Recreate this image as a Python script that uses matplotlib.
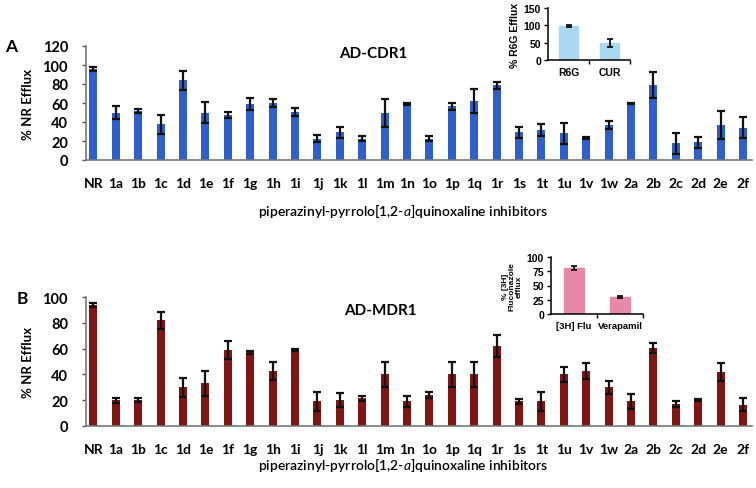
import numpy as np
import matplotlib
matplotlib.use('Agg')
import matplotlib.pyplot as plt

cats = ['NR', '1a', '1b', '1c', '1d', '1e', '1f', '1g', '1h', '1i', '1j', '1k', '1l',
        '1m', '1n', '1o', '1p', '1q', '1r', '1s', '1t', '1u', '1v', '1w',
        '2a', '2b', '2c', '2d', '2e', '2f']

# AD-CDR1, % NR efflux
cdr1_val = [96, 50, 51.5, 37.5, 84, 50, 47.5, 59, 60, 50.5, 22.5, 29, 22.5,
            49.5, 58.5, 22.5, 56.5, 62, 78.5, 29, 31.5, 28, 23, 37,
            59.5, 79, 17.5, 18.5, 37, 34]
cdr1_err = [2, 6.5, 2.5, 10, 10, 11, 3, 6, 4, 4, 4, 6, 3,
            15, 1, 3, 4, 13, 4, 6, 6, 11, 1, 4,
            1, 14, 11, 6, 15, 11]

# AD-MDR1, % NR efflux
mdr1_val = [94, 20, 20, 82, 30, 33, 59, 57, 43, 59, 19, 20, 21.5,
            40, 19, 24, 40, 40, 62, 19, 19, 40, 42.5, 30,
            19, 60.5, 17, 20, 41.5, 16.5]
mdr1_err = [1.5, 2, 1.5, 6.5, 7.5, 10, 7, 1, 7, 0.5, 7.5, 5.5, 2,
            10, 4.5, 2, 10, 10, 8.5, 2, 7.5, 6, 6, 5,
            5.5, 4, 2, 1, 7, 5]

insA_cats = ['R6G', 'CUR']
insA_val = [98, 49]
insA_err = [2, 12]

insB_cats = ['[3H] Flu', 'Verapamil']
insB_val = [80, 30]
insB_err = [3.5, 2]

plt.rcParams['font.family'] = ['Lato', 'DejaVu Sans']
plt.rcParams['mathtext.fontset'] = 'custom'
plt.rcParams['mathtext.it'] = 'Lato:italic'
plt.rcParams['mathtext.rm'] = 'Lato'

fig = plt.figure(figsize=(7.56, 4.89), dpi=100)
W, H = 756.0, 489.0


def px_axes(x0, y0, x1, y1):
    # axes from pixel box (top-left origin)
    return fig.add_axes([x0 / W, 1 - y1 / H, (x1 - x0) / W, (y1 - y0) / H])


def main_panel(ax, vals, errs, color, ymax, ystep):
    x = np.arange(len(cats))
    ax.bar(x, vals, width=0.36, color=color, zorder=2)
    ax.errorbar(x, vals, yerr=errs, fmt='none', ecolor='#111111',
                elinewidth=1.6, capsize=2.6, capthick=1.6, zorder=3)
    ax.set_xlim(-0.33, 29.4)
    ax.set_ylim(0, ymax)
    ax.set_yticks(np.arange(0, ymax + 1, ystep))
    ax.set_xticks(x)
    ax.set_xticklabels(cats, fontsize=10, fontweight='bold')
    for lab in ax.get_yticklabels():
        lab.set_fontsize(10.5)
        lab.set_fontweight('bold')
    ax.tick_params(axis='x', length=0, pad=12)
    ax.tick_params(axis='y', length=3, width=1, pad=10, color='#555555')
    for s in ['top', 'right']:
        ax.spines[s].set_visible(False)
    for s in ['left', 'bottom']:
        ax.spines[s].set_color('#777777')
        ax.spines[s].set_linewidth(1.2)
    ax.set_ylabel('% NR Efflux', fontsize=9.5, fontweight='bold', labelpad=6)


def inset_panel(ax, labels, vals, errs, color, ymax, ystep, ylabel, yfs, xfs):
    x = np.arange(len(labels))
    ax.bar(x, vals, width=0.45, color=color, edgecolor=color, zorder=2)
    ax.errorbar(x, vals, yerr=errs, fmt='none', ecolor='#111111',
                elinewidth=1.3, capsize=2.2, capthick=1.3, zorder=3)
    ax.set_xlim(-0.5, 1.5)
    ax.set_ylim(0, ymax)
    ax.set_yticks(np.arange(0, ymax + 1, ystep))
    ax.set_xticks(x)
    ax.set_xticks([0.5, 1.5], minor=True)
    ax.set_xticklabels(labels, fontsize=xfs, fontweight='bold',
                       family='Liberation Sans')
    for lab in ax.get_yticklabels():
        lab.set_fontsize(7.5)
        lab.set_fontweight('bold')
        lab.set_family('Liberation Sans')
    ax.tick_params(axis='x', which='major', length=0, pad=5)
    ax.tick_params(axis='x', which='minor', length=3, width=1, direction='out')
    ax.tick_params(axis='y', length=3, width=1, pad=2)
    for s in ['top', 'right']:
        ax.spines[s].set_visible(False)
    ax.spines['left'].set_linewidth(1.1)
    ax.spines['bottom'].set_linewidth(1.1)
    ax.set_ylabel(ylabel, fontsize=yfs, fontweight='bold',
                  family='Liberation Sans', labelpad=3, linespacing=1.0)


# Panel A
axA = px_axes(86, 47, 752, 161)
main_panel(axA, cdr1_val, cdr1_err, '#2F5FCF', 120, 20)
fig.text(11 / W, 1 - 47 / H, 'A', fontsize=12.5, fontweight='bold',
         ha='center', va='center')
fig.text(373 / W, 1 - 54 / H, 'AD-CDR1', fontsize=11, fontweight='bold',
         ha='center', va='center')
fig.text(403 / W, 1 - 211 / H, 'piperazinyl-pyrrolo[1,2-$\\mathit{a}$]quinoxaline inhibitors',
         fontsize=10, fontweight='semibold', ha='center', va='center')

# Panel B
axB = px_axes(86, 298, 752, 427)
main_panel(axB, mdr1_val, mdr1_err, '#821414', 100, 20)
fig.text(22 / W, 1 - 299 / H, 'B', fontsize=12.5, fontweight='bold',
         ha='center', va='center')
fig.text(380 / W, 1 - 311 / H, 'AD-MDR1', fontsize=11, fontweight='bold',
         ha='center', va='center')
fig.text(403 / W, 1 - 466 / H, 'piperazinyl-pyrrolo[1,2-$\\mathit{a}$]quinoxaline inhibitors',
         fontsize=10, fontweight='semibold', ha='center', va='center')

# Insets
insA = px_axes(548, 9, 630, 61)
inset_panel(insA, insA_cats, insA_val, insA_err, '#A8D8F2', 150, 50,
            '% R6G Efflux', 7.5, 7.5)

insB = px_axes(551, 258, 643, 315)
inset_panel(insB, insB_cats, insB_val, insB_err, '#E48AA6', 100, 25,
            '% [3H]\nFluconazole\nefflux', 6, 6.8)

fig.savefig('out.png', dpi=100)
